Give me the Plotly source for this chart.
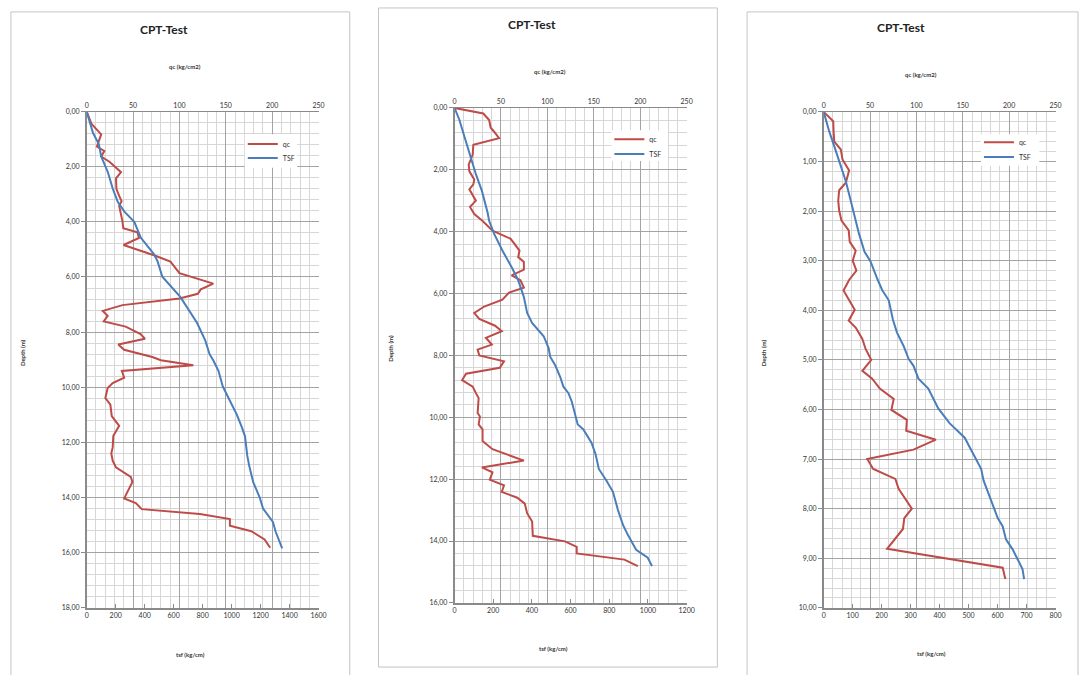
import plotly.graph_objects as go

W, H = 1088, 675

# ---------------- data ----------------
# Panel 1
p1_qc_depth = [0, 0.06, 0.44, 0.83, 1.27, 1.43, 1.63, 1.82, 2.2, 2.42,
               2.8, 3.06, 3.25, 3.42, 3.8, 3.99, 4.23, 4.38, 4.58, 4.84,
               5.23, 5.44, 5.86, 6.24, 6.45, 6.61, 6.78, 7.02, 7.23, 7.41,
               7.61, 7.8, 8.07, 8.24, 8.45, 8.64, 8.9, 9.02, 9.2, 9.41,
               9.65, 9.85, 10.03, 10.39, 10.63, 11.05, 11.4, 11.76, 12.18, 12.4,
               12.66, 12.9, 13.25, 13.43, 14.03, 14.2, 14.42, 14.6, 14.78, 15.02,
               15.22, 15.52, 15.82]
p1_qc = [0, 0.7, 5, 15.6, 11, 19, 15.6, 24.5, 37, 31.6,
         32, 35, 37.6, 35, 37.6, 38.6, 39.4, 54.6, 56.4, 39.7,
         74, 90.3, 100, 136.5, 123, 119.8, 100, 38.6, 17.3, 22.6,
         18.4, 42, 58, 62.8, 34, 40.4, 70.7, 80, 115, 37.9,
         40.4, 28, 22.6, 20.1, 25.5, 27, 35, 28.7, 28, 26.5,
         28, 31.5, 47.5, 49.3, 40.4, 53, 59.3, 122, 154.4, 154.4,
         177.5, 191.8, 197.8]
p1_tsf_depth = [0, 0.77, 1.19, 1.63, 2.2, 2.8, 3.27, 3.63, 4.0, 4.58,
                5.18, 5.42, 5.99, 6.73, 7.66, 8.3, 8.8, 9.04, 9.4, 9.97,
                10.5, 10.98, 11.43, 11.77, 12.48, 12.84, 13.44, 14.0, 14.4, 14.67,
                14.88, 15.24, 15.84]
p1_tsf = [0, 43, 84, 100, 146, 180, 214, 260, 328, 374,
          465, 488, 522, 647, 761, 818, 848, 875, 909, 939,
          989, 1035, 1069, 1092, 1108, 1121, 1149, 1194, 1217, 1258,
          1285, 1304, 1349]

# Panel 2
p2_qc_depth = [0, 0.18, 0.39, 0.64, 0.77, 0.98, 1.19, 1.51, 1.83, 2.05,
               2.31, 2.47, 2.63, 3.0, 3.2, 3.43, 3.65, 3.97, 4.23, 4.45,
               4.61, 4.82, 4.98, 5.23, 5.41, 5.57, 5.81, 5.97, 6.2, 6.42,
               6.63, 6.82, 7.04, 7.22, 7.43, 7.65, 7.81, 8.0, 8.19, 8.4,
               8.59, 8.8, 9.01, 9.22, 9.38, 9.86, 9.97, 10.23, 10.39, 10.77,
               11.03, 11.4, 11.62, 11.78, 12.02, 12.2, 12.41, 12.6, 12.79, 13.1,
               13.37, 13.83, 14.01, 14.19, 14.4, 14.6, 14.81]
p2_qc = [0, 31, 37.3, 39, 42.7, 48, 20.3, 19.6, 15.3, 16,
         21.3, 20.3, 16, 23, 16.7, 21.3, 30, 40.9, 60.5, 65.8,
         70, 68.6, 74.7, 74.7, 61.5, 71, 74.7, 58.7, 51.6, 32,
         21.3, 26.7, 43.7, 50.9, 33.8, 40.2, 24.9, 26.7, 53.3, 48.7,
         12.4, 8.2, 19.6, 23.1, 26, 24.9, 27.4, 26, 30.2, 30.2,
         40.9, 74.7, 29.5, 40.9, 38, 53.3, 50.9, 67.6, 75.7, 78.2,
         83.6, 84.3, 119, 131.6, 131.6, 183, 197.4]
p2_tsf_depth = [0, 0.39, 0.82, 1.14, 1.62, 2.15, 2.69, 3.38, 3.65, 4.07,
                4.61, 5.19, 5.57, 6.1, 6.63, 6.95, 7.38, 7.76, 8.05, 8.32,
                8.69, 9.01, 9.22, 9.49, 9.91, 10.23, 10.39, 10.82, 11.19, 11.67,
                12.04, 12.41, 13.0, 13.48, 13.8, 14.28, 14.54, 14.81]
p2_tsf = [0, 25.6, 46, 60, 85, 111, 142, 171, 179, 205,
          247.5, 299, 329, 358, 375.6, 401, 461, 486.5, 495, 520.7,
          546, 563, 589, 606, 623, 637, 666, 708, 729, 746,
          785, 819, 845, 871, 896, 939, 999, 1021]

# Panel 3
p3_qc_depth = [0, 0.19, 0.4, 0.6, 0.76, 0.96, 1.18, 1.43, 1.58, 1.79,
               1.99, 2.19, 2.39, 2.62, 2.8, 3.0, 3.2, 3.39, 3.6, 3.8,
               3.99, 4.21, 4.35, 4.58, 4.78, 5.0, 5.22, 5.38, 5.58, 5.79,
               6.01, 6.21, 6.43, 6.61, 6.81, 7.0, 7.2, 7.4, 7.6, 8.0,
               8.19, 8.41, 8.81, 9.19, 9.42]
p3_qc = [0, 10.3, 10.7, 11.4, 18.5, 20.3, 27.4, 23.9, 16.7, 15.7,
         16.7, 19.2, 27, 28.1, 34.5, 31.3, 35.3, 27.4, 21.4, 27.4,
         33.5, 27, 34.5, 41.7, 45.2, 51.3, 41.7, 52.3, 60.5, 75.5,
         73, 89.7, 89, 121, 96.9, 47, 53.4, 77.3, 80.8, 95.1,
         86.9, 85.5, 68.4, 193, 195.9]
p3_tsf_depth = [0, 0.4, 0.73, 1.06, 1.4, 1.79, 2.19, 2.46, 2.82, 3.02,
                3.36, 3.59, 3.8, 4.19, 4.45, 4.72, 4.98, 5.12, 5.38, 5.58,
                5.98, 6.28, 6.57, 6.9, 7.2, 7.43, 7.9, 8.19, 8.36, 8.62,
                8.82, 9.22, 9.42]
p3_tsf = [0, 19.4, 38.7, 57, 76.4, 93.4, 110.5, 122, 141, 162,
          184.6, 201.7, 224.5, 239, 253, 275.8, 293, 310, 327, 361,
          395.4, 435, 486.6, 515, 543.6, 551.6, 583.5, 600.6, 617.7, 629,
          652, 686, 691.7]

series_names = ["qc", "TSF"]
chart_title = "CPT-Test"
top_axis_title = "qc (kg/cm2)"
bottom_axis_title = "tsf (kg/cm)"
y_axis_title = "Depth (m)"

qc_range = [0, 250]
depth_max = [18, 16, 10]
depth_major = [2, 2, 1]
depth_minor = [0.4, 0.4, 0.2]
tsf_max = [1600, 1200, 800]
tsf_step = [200, 200, 100]

# ---------------- layout (pixels of the 1088x675 page) ----------------
RED = "#be4b48"
BLUE = "#4a7ebb"
MAJOR = "#a3a3a3"
MINOR = "#d6d6d6"
AXL = "#8a8a8a"
FONT = "Lato"

def px(x):
    return x / W

def py(y):
    return 1 - y / H

plots = [  # left, right, top, bottom pixel
    (85.5, 319.5, 108.0, 611.0),
    (456.7, 691.0, 104.3, 606.0),
    (829.3, 1063.3, 108.3, 611.0),
]
frames = [(9, 7, 351, 700), (380, 3, 722, 671), (752, 7, 1086, 700)]
titles_xy = [(163, 25), (535, 20), (907, 23)]
qc_lab_xy = [(185, 62), (553, 67), (928, 70)]
tsf_lab_xy = [(190, 658), (557, 652), (938, 657)]
depth_lab_xy = [(20, 352), (392, 348), (768, 352)]
# legend left x, y of "qc" row, y of "TSF" row
legend_xy = [(243, 141, 155), (613, 136, 151), (986, 139, 154)]
# white legend boxes (x0, y0, x1, y1)
legend_box = [(245, 131, 298, 165), (615, 127, 672, 158), (988, 131, 1047, 163)]

data = [
    (p1_qc_depth, p1_qc, p1_tsf_depth, p1_tsf),
    (p2_qc_depth, p2_qc, p2_tsf_depth, p2_tsf),
    (p3_qc_depth, p3_qc, p3_tsf_depth, p3_tsf),
]

fig = go.Figure()
layout = {}
annotations = []
shapes = []

for i in range(3):
    qd, qv, td, tv = data[i]
    qx_id = "x" if i == 0 else f"x{2 * i + 1}"
    tx_id = f"x{2 * i + 2}"
    y_id = "y" if i == 0 else f"y{i + 1}"
    leg_q = "legend" if i == 0 else f"legend{2 * i + 1}"
    leg_t = f"legend{2 * i + 2}"
    qx_key = "xaxis" if i == 0 else f"xaxis{2 * i + 1}"
    tx_key = f"xaxis{2 * i + 2}"
    y_key = "yaxis" if i == 0 else f"yaxis{i + 1}"

    fig.add_trace(go.Scatter(x=qv, y=qd, xaxis=qx_id, yaxis=y_id, name=series_names[0],
                             mode="lines", line=dict(color=RED, width=2), legend=leg_q))
    fig.add_trace(go.Scatter(x=tv, y=td, xaxis=tx_id, yaxis=y_id, name=series_names[1],
                             mode="lines", line=dict(color=BLUE, width=2), legend=leg_t))

    l, r, t, b = plots[i]
    dom_x = [px(l), px(r)]
    dom_y = [py(b), py(t)]

    layout[qx_key] = dict(
        domain=dom_x, anchor=y_id, side="top", range=qc_range, dtick=50, tick0=0,
        showgrid=True, gridcolor=MAJOR, gridwidth=1, zeroline=False,
        showline=True, linecolor=AXL, linewidth=1, ticks="",
        minor=dict(dtick=10, tick0=0, showgrid=True, gridcolor=MINOR, gridwidth=1, ticks=""),
        tickfont=dict(size=7, color="#333333", family=FONT), fixedrange=True,
    )
    layout[tx_key] = dict(
        domain=dom_x, anchor=y_id, overlaying=qx_id, side="bottom",
        range=[0, tsf_max[i]], dtick=tsf_step[i], tick0=0, tickformat="d",
        showgrid=False, zeroline=False, showline=True, linecolor=AXL, linewidth=1.5,
        ticks="inside", ticklen=4, tickcolor=AXL,
        tickfont=dict(size=7, color="#333333", family=FONT), fixedrange=True,
    )
    layout[y_key] = dict(
        domain=dom_y, anchor=qx_id, range=[depth_max[i], 0], dtick=depth_major[i], tick0=0,
        tickformat=".2f", showgrid=True, gridcolor=MAJOR, gridwidth=1, zeroline=False,
        showline=True, linecolor=AXL, linewidth=1.5, ticks="outside", ticklen=4, tickcolor=AXL,
        minor=dict(dtick=depth_minor[i], tick0=0, showgrid=True, gridcolor=MINOR, gridwidth=1, ticks=""),
        tickfont=dict(size=7, color="#333333", family=FONT), fixedrange=True,
    )

    lx, lyq, lyt = legend_xy[i]
    for leg, ly in ((leg_q, lyq), (leg_t, lyt)):
        layout[leg] = dict(
            x=px(lx), y=py(ly), xanchor="left", yanchor="middle", xref="paper", yref="paper",
            bgcolor="rgba(0,0,0,0)", borderwidth=0, font=dict(size=7, family=FONT, color="#333333"),
            itemwidth=30, tracegroupgap=0,
        )

    bx0, by0, bx1, by1 = legend_box[i]
    shapes.append(dict(type="rect", xref="paper", yref="paper",
                       x0=px(bx0), x1=px(bx1), y0=py(by1), y1=py(by0),
                       line=dict(width=0), fillcolor="white", layer="above"))

    fx0, fy0, fx1, fy1 = frames[i]
    shapes.append(dict(type="rect", xref="paper", yref="paper",
                       x0=px(fx0), x1=px(fx1), y0=py(fy1), y1=py(fy0),
                       line=dict(color="#c4c4c4", width=1), fillcolor="rgba(0,0,0,0)", layer="below"))

    common = dict(xref="paper", yref="paper", showarrow=False, xanchor="center", yanchor="middle")
    tx, ty = titles_xy[i]
    annotations.append(dict(text=f"<b>{chart_title}</b>", x=px(tx), y=py(ty),
                            font=dict(size=12, family=FONT, color="#222222"), **common))
    ax_, ay_ = qc_lab_xy[i]
    annotations.append(dict(text=f"<b>{top_axis_title}</b>", x=px(ax_), y=py(ay_),
                            font=dict(size=6, family=FONT, color="#333333"), **common))
    bx_, by_ = tsf_lab_xy[i]
    annotations.append(dict(text=f"<b>{bottom_axis_title}</b>", x=px(bx_), y=py(by_),
                            font=dict(size=6, family=FONT, color="#333333"), **common))
    dx_, dy_ = depth_lab_xy[i]
    annotations.append(dict(text=f"<b>{y_axis_title}</b>", x=px(dx_), y=py(dy_), textangle=-90,
                            font=dict(size=6, family=FONT, color="#333333"), **common))

fig.update_layout(
    autosize=True, margin=dict(l=0, r=0, t=0, b=0, pad=0),
    paper_bgcolor="white", plot_bgcolor="white",
    separators=",.", font=dict(family=FONT, size=7, color="#333333"),
    showlegend=True, annotations=annotations, shapes=shapes,
    **layout,
)

fig.write_html(
    "out.html",
    config={"displayModeBar": False, "responsive": True},
    default_width="100vw",
    default_height="100vh",
    post_script=(
        "document.documentElement.style.margin='0px';"
        "document.body.style.margin='0px';"
        "document.documentElement.style.overflow='hidden';"
        "document.body.style.overflow='hidden';"
        "var gd=document.getElementById('{plot_id}');"
        "gd.style.position='fixed';gd.style.left='0px';gd.style.top='0px';"
    ),
)
